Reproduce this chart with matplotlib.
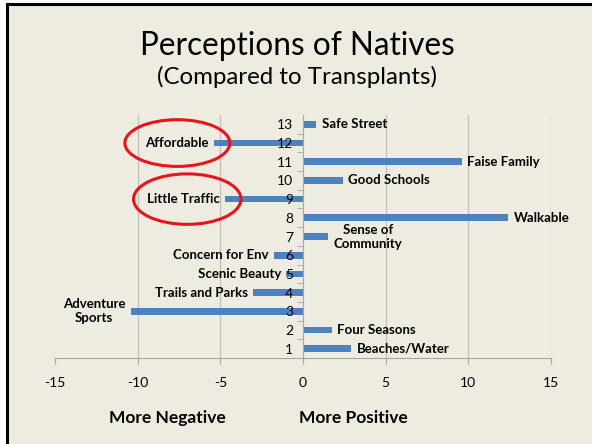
import matplotlib.pyplot as plt
from matplotlib.patches import Ellipse, Rectangle

# Datos
categorias = [1, 2, 3, 4, 5, 6, 7, 8, 9, 10, 11, 12, 13]
valores = [2.9, 1.75, -10.4, -3.0, -1.0, -1.75, 1.5, 12.4, -4.7, 2.4, 9.6, -5.4, 0.8]
etiquetas = ["Beaches/Water", "Four Seasons", "Adventure\nSports", "Trails and Parks",
             "Scenic Beauty", "Concern for Env", "Sense of\nCommunity", "Walkable",
             "Little Traffic", "Good Schools", "Faise Family", "Affordable", "Safe Street"]

fondo = "#EEECE1"
azul = "#4F81BD"
gris = "#A6A6A6"

plt.rcParams['font.family'] = ['Lato', 'DejaVu Sans']
plt.rcParams['axes.unicode_minus'] = False

fig = plt.figure(figsize=(5.92, 4.44), dpi=100, facecolor="white")
# marco de la diapositiva (solo se ven los bordes izquierdo y superior)
fig.patches.append(Rectangle((6.5 / 592, -0.1), 1.2, 1.1 - 4 / 444, transform=fig.transFigure,
                             facecolor=fondo, edgecolor="black", linewidth=2.2, zorder=-5))

fig.text(0.502, 1 - 46 / 444, "Perceptions of Natives", ha="center", va="center", fontsize=22.7)
fig.text(0.502, 1 - 77 / 444, "(Compared to Transplants)", ha="center", va="center", fontsize=17.3)

ax = fig.add_axes([55 / 592, 1 - 358 / 444, 496 / 592, 243 / 444])
ax.set_facecolor("none")
ax.set_axisbelow(False)

ax.barh(categorias, valores, height=0.36, color=azul, zorder=2)

ax.set_xlim(-15, 15)
ax.set_ylim(0.5, 13.5)
ax.set_xticks(range(-15, 16, 5))
ax.set_yticks(categorias)
ax.set_yticks([c + 0.5 for c in categorias[:-1]], minor=True)
ax.tick_params(axis="x", length=4, color=gris, pad=10, labelsize=10)
ax.tick_params(axis="y", which="major", length=0, pad=7, labelsize=10)
ax.tick_params(axis="y", which="minor", length=4, color=gris)

for x in [-10, -5, 5, 10, 15]:
    ax.axvline(x, color="#BFBFBF", linewidth=0.9, zorder=1)

ax.spines["left"].set_position(("data", 0))
ax.spines["left"].set_color(gris)
ax.spines["bottom"].set_color(gris)
ax.spines["top"].set_visible(False)
ax.spines["right"].set_visible(False)

for c, v, t in zip(categorias, valores, etiquetas):
    lado = 1 if v > 0 else -1
    ax.annotate(t, (v, c), xytext=(4 * lado, 0), textcoords="offset points",
                ha="left" if v > 0 else "right", va="center",
                fontsize=9.5, fontweight="bold", multialignment="center", zorder=5)

# óvalos rojos
ax.add_patch(Ellipse((-7.6, 12), 6.35, 2.5, fill=False, edgecolor="#E8141B",
                     linewidth=2.2, clip_on=False, zorder=4))
ax.add_patch(Ellipse((-7.0, 9), 6.5, 2.7, fill=False, edgecolor="#E8141B",
                     linewidth=2.2, clip_on=False, zorder=4))

fig.text(167 / 592, 1 - 418 / 444, "More Negative", ha="center", va="center",
         fontsize=12.5, fontweight="bold")
fig.text(353 / 592, 1 - 418 / 444, "More Positive", ha="center", va="center",
         fontsize=12.5, fontweight="bold")

fig.savefig("out.png", dpi=100, facecolor="white")
